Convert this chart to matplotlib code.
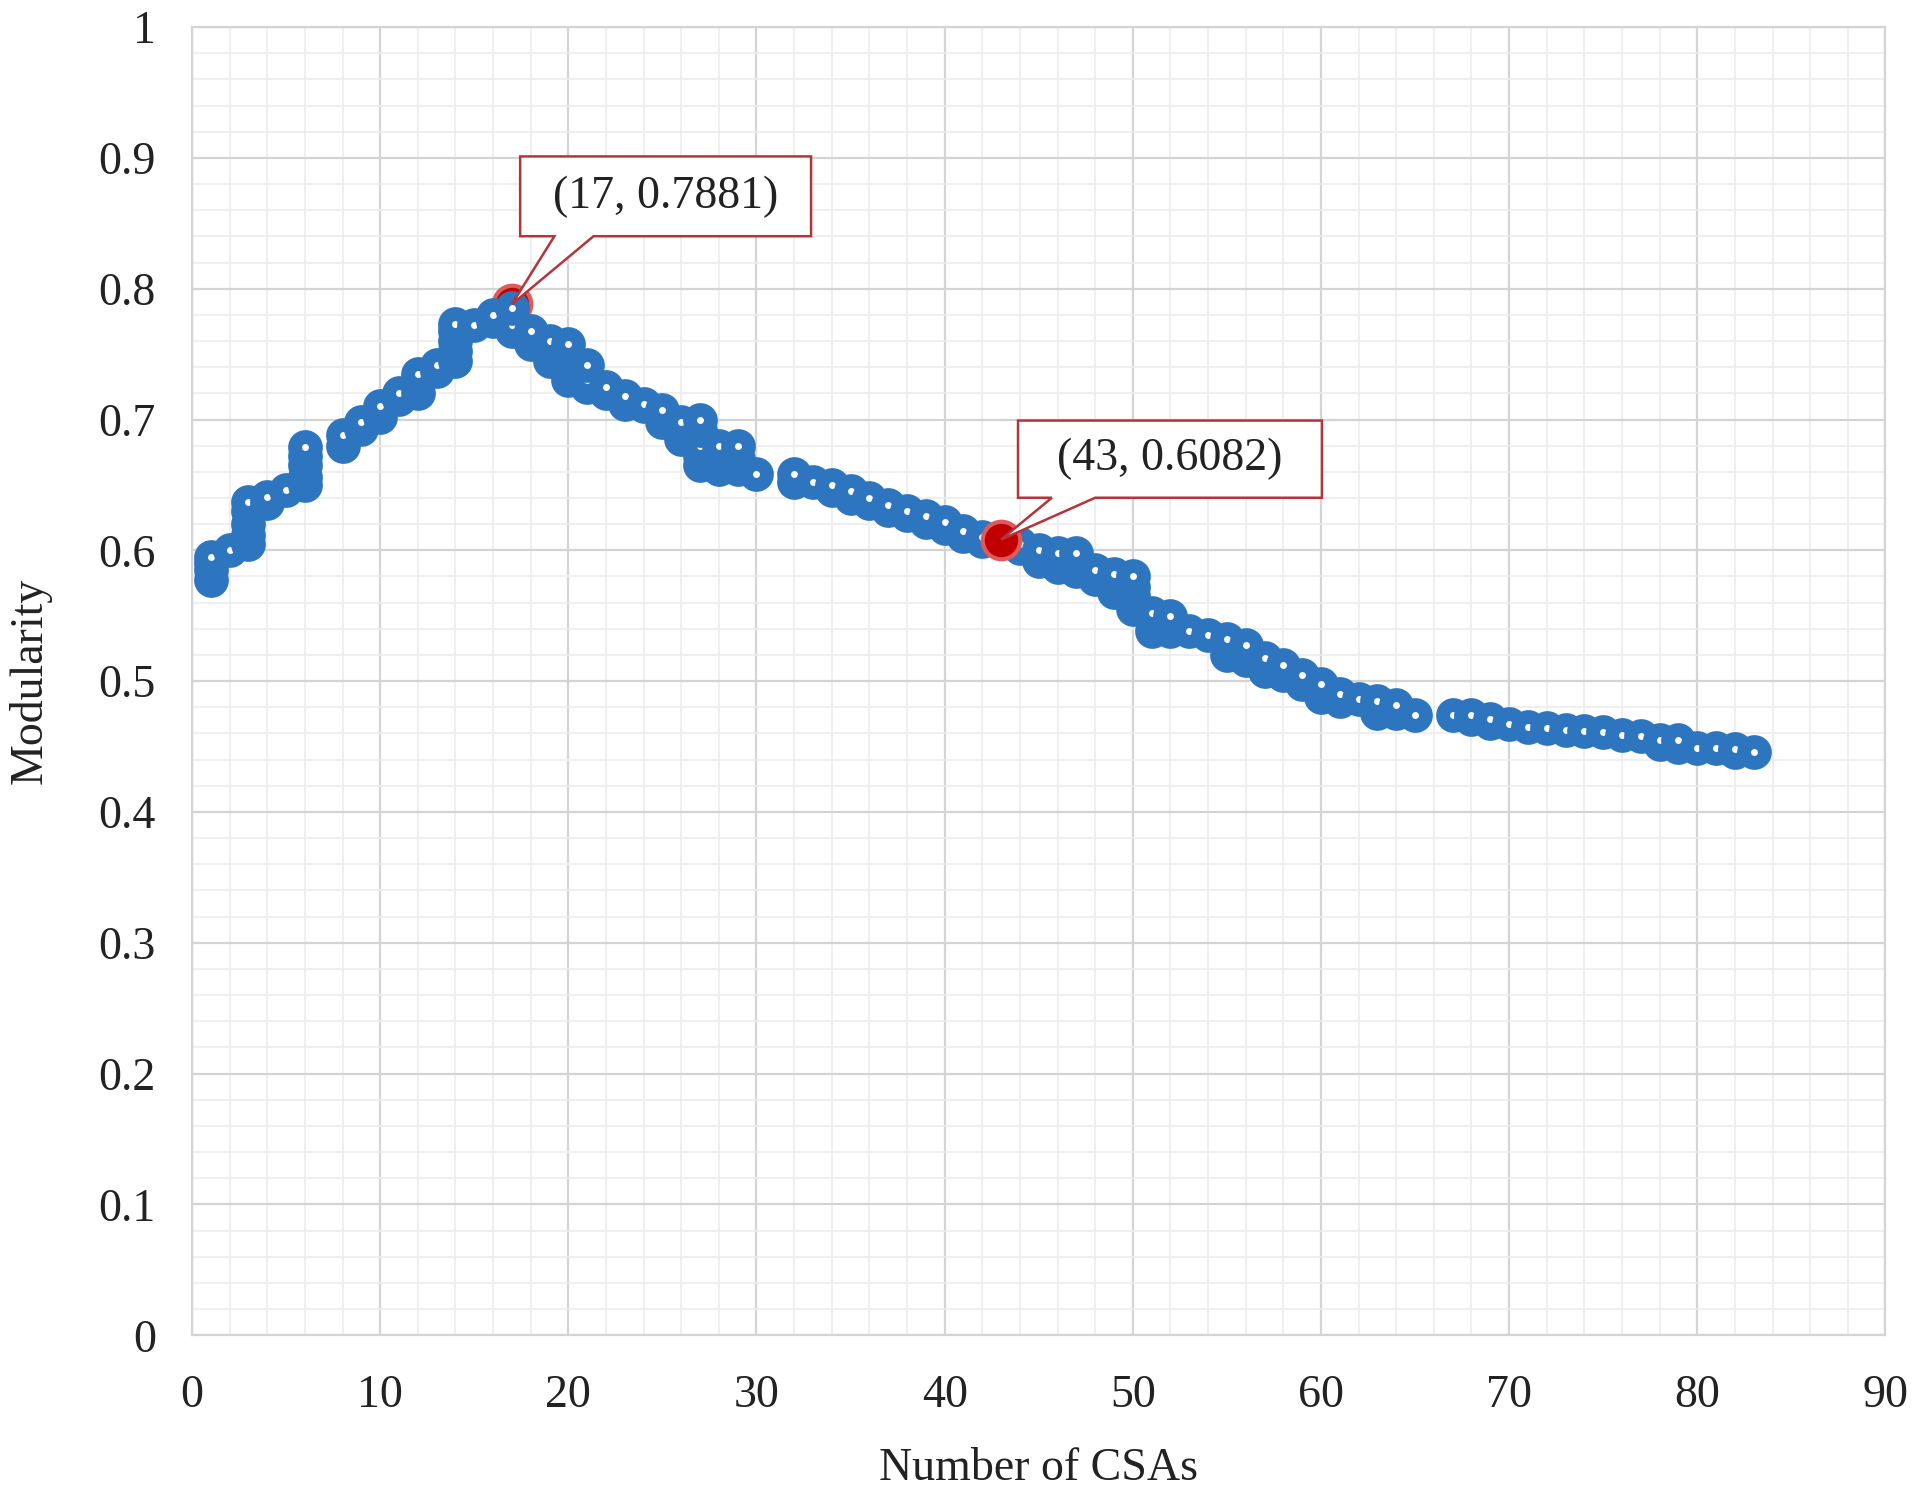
import numpy as np
import matplotlib
matplotlib.use("Agg")
import matplotlib.pyplot as plt
from matplotlib.patches import Polygon
from matplotlib.ticker import MultipleLocator, FormatStrFormatter

plt.rcParams['font.family'] = ['Liberation Serif', 'DejaVu Serif']

# Modularity values read for each number of CSAs (several runs per count)
valores = {
    1: [0.577, 0.585, 0.590, 0.595],
    2: [0.600],
    3: [0.605, 0.612, 0.620, 0.630, 0.637],
    4: [0.636, 0.641],
    5: [0.646],
    6: [0.650, 0.656, 0.665, 0.672, 0.679],
    8: [0.680, 0.688],
    9: [0.693, 0.698],
    10: [0.702, 0.710],
    11: [0.716, 0.720],
    12: [0.720, 0.728, 0.735],
    13: [0.737, 0.742],
    14: [0.745, 0.752, 0.760, 0.768, 0.773],
    15: [0.772],
    16: [0.775, 0.780],
    17: [0.768, 0.772, 0.785],
    18: [0.758, 0.762, 0.768],
    19: [0.745, 0.755, 0.760],
    20: [0.730, 0.735, 0.740, 0.750, 0.758],
    21: [0.725, 0.730, 0.742],
    22: [0.720, 0.725],
    23: [0.712, 0.718],
    24: [0.710, 0.712],
    25: [0.698, 0.703, 0.707],
    26: [0.685, 0.690, 0.698],
    27: [0.665, 0.672, 0.680, 0.692, 0.700],
    28: [0.662, 0.665, 0.672, 0.680],
    29: [0.662, 0.670, 0.680],
    30: [0.658],
    32: [0.652, 0.658],
    33: [0.652],
    34: [0.646, 0.650],
    35: [0.640, 0.645],
    36: [0.636, 0.640],
    37: [0.631, 0.635],
    38: [0.627, 0.630],
    39: [0.622, 0.626],
    40: [0.617, 0.622],
    41: [0.611, 0.615],
    42: [0.607, 0.610],
    43: [0.607],
    44: [0.602, 0.605],
    45: [0.592, 0.596, 0.600],
    46: [0.587, 0.592, 0.598],
    47: [0.584, 0.590, 0.598],
    48: [0.578, 0.585],
    49: [0.568, 0.575, 0.582],
    50: [0.555, 0.565, 0.572, 0.580],
    51: [0.538, 0.545, 0.552],
    52: [0.538, 0.543, 0.550],
    53: [0.538],
    54: [0.535],
    55: [0.520, 0.528, 0.532],
    56: [0.516, 0.522, 0.528],
    57: [0.508, 0.512, 0.518],
    58: [0.505, 0.512],
    59: [0.498, 0.505],
    60: [0.488, 0.492, 0.498],
    61: [0.485, 0.490],
    62: [0.486],
    63: [0.476, 0.480, 0.485],
    64: [0.476, 0.482],
    65: [0.474],
    67: [0.474],
    68: [0.471, 0.474],
    69: [0.468, 0.471],
    70: [0.467],
    71: [0.465],
    72: [0.464],
    73: [0.463],
    74: [0.462],
    75: [0.461],
    76: [0.459],
    77: [0.458],
    78: [0.452, 0.455],
    79: [0.450, 0.455],
    80: [0.449],
    81: [0.449],
    82: [0.446, 0.448],
    83: [0.446],
}

num_csas = [k for k, lista in valores.items() for _ in lista]
modularidad = [v for lista in valores.values() for v in lista]

# puntos destacados
destacados_x = [17, 43]
destacados_y = [0.7881, 0.6082]

azul = '#2e75c0'
rojo = '#c00000'
borde_caja = '#b5343a'
texto = '#222222'

fig = plt.figure(figsize=(19.2, 15.02), dpi=100)
ax = fig.add_axes([0.1, 0.111, 0.882, 0.871])

# punto rojo 17 debajo de los azules, 43 encima
ax.plot(destacados_x[0], destacados_y[0], 'o', ms=27, mfc=rojo, mec='#e05a5a',
        mew=3, zorder=3)
ax.plot(num_csas, modularidad, 'o', ms=15, mfc='white', mec=azul, mew=10,
        linestyle='none', zorder=4)
ax.plot(destacados_x[1], destacados_y[1], 'o', ms=27, mfc=rojo, mec='#e05a5a',
        mew=3, zorder=5)

# cajas de llamada (x0, x1, y0, y1, base de la cuna) relativas al punto
cajas = [
    (0.44, 15.9, 0.052, 0.113, 2.26, 4.34),
    (0.9, 17.05, 0.032, 0.091, 2.7, 5.0),
]
for px, py, (x0, x1, y0, y1, w0, w1) in zip(destacados_x, destacados_y, cajas):
    verts = [
        (px + x0, py + y0), (px + w0, py + y0), (px, py),
        (px + w1, py + y0), (px + x1, py + y0), (px + x1, py + y1),
        (px + x0, py + y1),
    ]
    ax.add_patch(Polygon(verts, closed=True, facecolor='white',
                         edgecolor=borde_caja, lw=1.8, zorder=6))
    ax.text(px + (x0 + x1) / 2, py + (y0 + y1) / 2,
            f"({px}, {py:.4f})", ha='center', va='center',
            fontsize=33, color=texto, zorder=7)

ax.set_xlim(0, 90)
ax.set_ylim(0, 1)
ax.xaxis.set_major_locator(MultipleLocator(10))
ax.xaxis.set_minor_locator(MultipleLocator(2))
ax.yaxis.set_major_locator(MultipleLocator(0.1))
ax.yaxis.set_minor_locator(MultipleLocator(0.02))
ax.yaxis.set_major_formatter(FormatStrFormatter('%g'))

ax.grid(which='major', color='#d4d4d4', lw=1.6)
ax.grid(which='minor', color='#ececec', lw=1.2)
ax.set_axisbelow(True)
for lado in ax.spines.values():
    lado.set_color('#d4d4d4')
    lado.set_linewidth(1.6)

ax.tick_params(which='both', length=0)
ax.tick_params(axis='x', labelsize=33, pad=28, colors=texto)
ax.tick_params(axis='y', labelsize=33, pad=26, colors=texto)

ax.set_xlabel('Number of CSAs', fontsize=33, color=texto, labelpad=22)
ax.set_ylabel('Modularity', fontsize=33, color=texto, labelpad=34)

fig.savefig('out.png', dpi=100, facecolor='white')
